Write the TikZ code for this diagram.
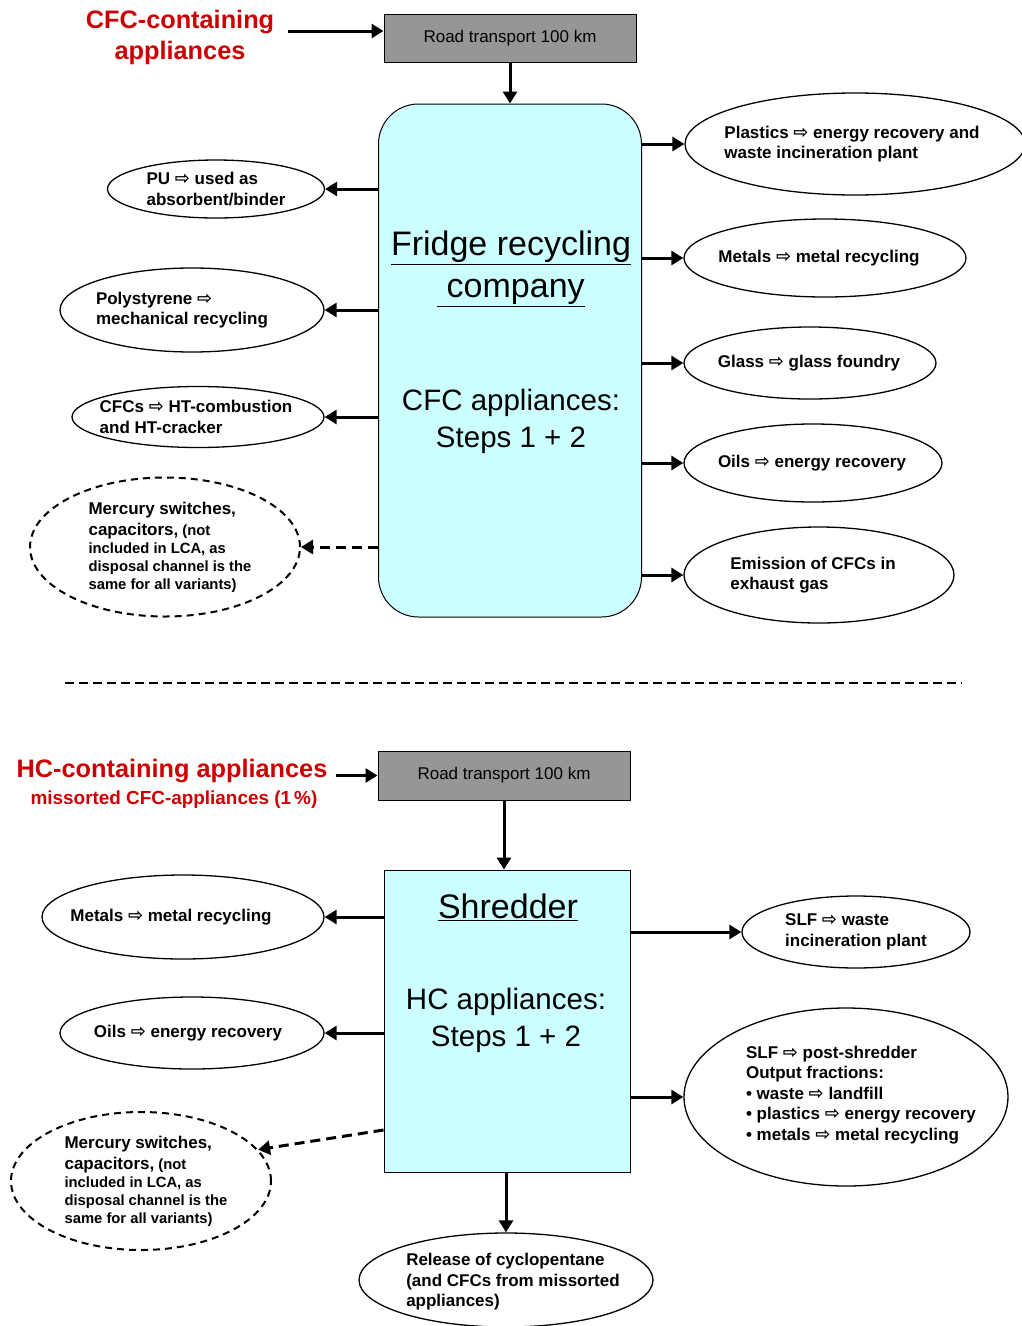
\documentclass[tikz,border=0pt]{standalone}
\usepackage{fontspec}
\setmainfont{Liberation Sans}
\newfontfamily\arrowfont{DejaVu Sans}
\usepackage{tikz}
\usetikzlibrary{shapes.geometric, arrows.meta}

\definecolor{boxcyan}{RGB}{204,255,255}
\definecolor{roadgrey}{RGB}{150,150,150}
\definecolor{titlered}{RGB}{204,0,0}
\newcommand{\flowto}{{\arrowfont\fontsize{18}{18}\selectfont ⇨}}

\begin{document}
\begin{tikzpicture}[x=1pt, y=-1pt,
    oval/.style={ellipse, draw, line width=1.3pt, fill=white, inner sep=0pt},
    dashoval/.style={oval, line width=2pt, dash pattern=on 7pt off 5pt},
    ovaltext/.style={align=left, font=\fontsize{17}{20.5}\selectfont\bfseries},
    smalltext/.style={align=left, font=\fontsize{14.8}{18}\selectfont\bfseries},
    roadbox/.style={draw, line width=1pt, fill=roadgrey, minimum width=252pt, minimum height=48pt, font=\fontsize{17}{20}\selectfont},
    plantbox/.style={draw, line width=1pt, fill=boxcyan},
    bigtext/.style={align=center, font=\fontsize{34}{42}\selectfont},
    midtext/.style={align=center, font=\fontsize{29.5}{37}\selectfont},
    redtitle/.style={align=center, text=titlered, font=\fontsize{25.3}{31}\selectfont\bfseries},
    flow/.style={-{Triangle[length=12pt, width=14pt]}, line width=3pt},
    dashflow/.style={flow, dash pattern=on 10pt off 6pt}
]
\useasboundingbox (0,0) rectangle (1021,1326);

% CFC appliances
\node[redtitle] (cfcin) at (180,37) {CFC-containing\\appliances};
\node[roadbox] (road1) at (510,38) {Road transport 100 km};
\node[plantbox, rounded corners=40pt, minimum width=263pt, minimum height=513pt] (fridge) at (510,360.5) {};
\node[bigtext] (fridgename) at (511,269) {\underline{Fridge recycling}\\\underline{\ company}};
\node[midtext] (fridgesteps) at (511,421) {CFC appliances:\\Steps 1 + 2};

\node[oval, minimum width=217pt, minimum height=58pt, label={[ovaltext]center:{PU \flowto{} used as\\absorbent/binder}}] (pu) at (216,189) {};
\node[oval, minimum width=264pt, minimum height=84pt, label={[ovaltext, xshift=-10pt]center:{Polystyrene \flowto\\mechanical recycling}}] (polystyrene) at (192,310) {};
\node[oval, minimum width=252pt, minimum height=61pt, label={[ovaltext, xshift=-2pt]center:{CFCs \flowto{} HT-combustion\\and HT-cracker}}] (cfcs) at (198,417) {};
\node[dashoval, minimum width=270pt, minimum height=139pt, label={[smalltext, xshift=5pt]center:{{\fontsize{17}{18}\selectfont Mercury switches,}\\[3pt]{\fontsize{17}{18}\selectfont capacitors,} (not\\included in LCA, as\\disposal channel is the\\same for all variants)}}] (mercury1) at (165,547) {};

\node[oval, minimum width=340pt, minimum height=102pt, label={[ovaltext, xshift=-3pt]center:{Plastics \flowto{} energy recovery and\\waste incineration plant}}] (plastics) at (855,144) {};
\node[oval, minimum width=282pt, minimum height=78pt, label={[ovaltext, xshift=-6pt]center:{Metals \flowto{} metal recycling}}] (metals1) at (825,258) {};
\node[oval, minimum width=252pt, minimum height=72pt, label={[ovaltext, xshift=-1pt]center:{Glass \flowto{} glass foundry}}] (glass) at (810,363) {};
\node[oval, minimum width=258pt, minimum height=78pt, label={[ovaltext, xshift=-1pt]center:{Oils \flowto{} energy recovery}}] (oils1) at (813,463) {};
\node[oval, minimum width=270pt, minimum height=96pt, label={[ovaltext, xshift=-6pt]center:{Emission of CFCs in\\exhaust gas}}] (emission) at (819,575) {};

\draw[flow, shorten <=10pt] ([yshift=7pt]cfcin.east |- road1.west) -- ([yshift=7pt]road1.west);
\draw[flow] (road1.south) -- (fridge.north);
\draw[flow] (fridge.west |- pu.east) -- (pu.east);
\draw[flow] (fridge.west |- polystyrene.east) -- (polystyrene.east);
\draw[flow] (fridge.west |- cfcs.east) -- (cfcs.east);
\draw[dashflow] (fridge.west |- mercury1.east) -- (mercury1.east);
\draw[flow] (fridge.east |- plastics.west) -- (plastics.west);
\draw[flow] (fridge.east |- metals1.west) -- (metals1.west);
\draw[flow] (fridge.east |- glass.west) -- (glass.west);
\draw[flow] (fridge.east |- oils1.west) -- (oils1.west);
\draw[flow] (fridge.east |- emission.west) -- (emission.west);

% divider
\draw[line width=2pt, dash pattern=on 9pt off 5pt] (65,683) -- (962,683);

% HC appliances
\node[redtitle] (hcin) at (172,771) {HC-containing appliances};
\node[redtitle, font=\fontsize{18.9}{22}\selectfont\bfseries] (missorted) at (174,800) {missorted CFC-appliances (1\,\%)};
\node[roadbox, minimum height=49pt] (road2) at (504,775.5) {Road transport 100 km};
\node[plantbox, minimum width=246pt, minimum height=302pt] (shred) at (507,1021) {};
\node[bigtext] (shredname) at (508,907) {\underline{Shredder}};
\node[midtext] (shredsteps) at (506,1020) {HC appliances:\\Steps 1 + 2};

\node[oval, minimum width=282pt, minimum height=84pt, label={[ovaltext, xshift=-12pt]center:{Metals \flowto{} metal recycling}}] (metals2) at (183,917) {};
\node[oval, minimum width=264pt, minimum height=72pt, label={[ovaltext, xshift=-4pt]center:{Oils \flowto{} energy recovery}}] (oils2) at (192,1033) {};
\node[dashoval, minimum width=260pt, minimum height=138pt, label={[smalltext, xshift=5pt]center:{{\fontsize{17}{18}\selectfont Mercury switches,}\\[3pt]{\fontsize{17}{18}\selectfont capacitors,} (not\\included in LCA, as\\disposal channel is the\\same for all variants)}}] (mercury2) at (141,1181) {};
\node[oval, minimum width=228pt, minimum height=72pt, label={[ovaltext]center:{SLF \flowto{} waste\\incineration plant}}] (slfwaste) at (856,932) {};
\node[oval, minimum width=324pt, minimum height=178pt, label={[ovaltext, xshift=15pt, yshift=2pt]center:{SLF \flowto{} post-shredder\\Output fractions:\\• waste \flowto{} landfill\\• plastics \flowto{} energy recovery\\• metals \flowto{} metal recycling}}] (slfpost) at (846,1097) {};
\node[oval, minimum width=294pt, minimum height=94pt, label={[ovaltext, xshift=7pt, yshift=-2pt]center:{Release of cyclopentane\\(and CFCs from missorted\\appliances)}}] (release) at (506,1280) {};
\coordinate (hgleak) at (shred.west |- 0,1130);

\draw[flow, shorten <=5pt] (hcin.east |- road2.west) -- (road2.west);
\draw[flow] (road2.south) -- (road2.south |- shred.north);
\draw[flow] (shred.west |- metals2.east) -- (metals2.east);
\draw[flow] (shred.west |- oils2.east) -- (oils2.east);
\draw[dashflow] (hgleak) -- (mercury2.15);
\draw[flow] (shred.east |- slfwaste.west) -- (slfwaste.west);
\draw[flow] (shred.east |- slfpost.west) -- (slfpost.west);
\draw[flow] (release.north |- shred.south) -- (release.north);
\end{tikzpicture}
\end{document}
